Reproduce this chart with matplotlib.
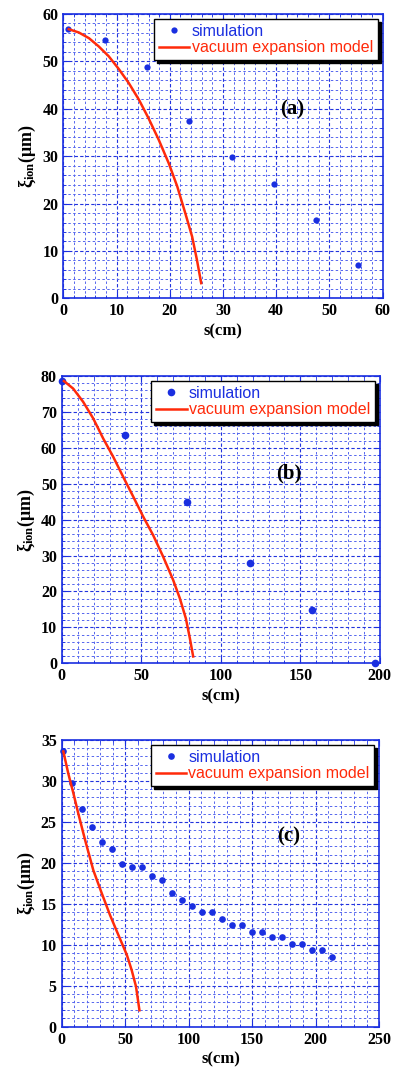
import matplotlib
matplotlib.use("Agg")
import matplotlib.pyplot as plt
from matplotlib.ticker import MultipleLocator
from matplotlib.lines import Line2D

plt.rcParams['mathtext.fontset'] = 'custom'
plt.rcParams['mathtext.rm'] = 'Liberation Serif:bold'
plt.rcParams['mathtext.it'] = 'Liberation Serif:bold'
plt.rcParams['mathtext.bf'] = 'Liberation Serif:bold'

# ---- panel (a) ----
sim_a_x = [0.8, 7.9, 15.8, 23.7, 31.6, 39.5, 47.4, 55.3]
sim_a_y = [56.9, 54.6, 48.9, 37.5, 29.9, 24.2, 16.6, 7.1]
mod_a_x = [1.0, 2.9, 4.8, 6.6, 8.5, 10.4, 12.3, 14.2, 16.0, 17.9, 19.8, 21.4,
           22.9, 24.2, 25.1, 25.9]
mod_a_y = [56.8, 56.1, 54.9, 53.2, 51.1, 48.4, 45.4, 41.9, 38.0, 33.5, 28.5, 23.6,
           18.0, 13.0, 8.1, 3.2]

# ---- panel (b) ----
sim_b_x = [0.4, 39.6, 78.8, 118.2, 157.4, 196.8]
sim_b_y = [78.7, 63.7, 44.8, 28.0, 14.9, 0.0]
mod_b_x = [1.3, 7.1, 13.4, 19.7, 26.0, 32.3, 38.6, 44.9, 51.2, 57.4, 63.7, 70.0,
           74.2, 78.0, 80.5, 82.6]
mod_b_y = [78.6, 76.5, 72.8, 68.2, 62.6, 57.5, 51.9, 46.4, 40.8, 35.7, 29.7, 23.2,
           18.1, 12.5, 7.0, 1.9]

# ---- panel (c) ----
sim_c_x = [1.3, 8.4, 16.3, 24.1, 32.0, 39.9, 47.8, 55.6, 63.5, 71.4, 79.3, 87.1,
           95.0, 102.9, 110.8, 118.6, 126.5, 134.4, 142.3, 150.1, 158.0, 165.9,
           173.8, 181.6, 189.5, 197.4, 205.2, 213.1]
sim_c_y = [33.7, 29.7, 26.6, 24.4, 22.5, 21.7, 19.9, 19.5, 19.5, 18.4, 17.9, 16.3,
           15.5, 14.7, 14.0, 14.0, 13.2, 12.4, 12.4, 11.6, 11.6, 10.9,
           10.9, 10.1, 10.1, 9.3, 9.3, 8.5]
mod_c_x = [1.3, 5.2, 9.2, 13.1, 18.4, 24.9, 31.5, 38.1, 44.6, 51.2, 55.1, 58.5, 61.2]
mod_c_y = [33.6, 30.9, 28.5, 26.0, 22.8, 19.1, 16.3, 13.6, 11.2, 8.8, 6.9, 4.9, 2.0]

panels = [
    dict(sx=sim_a_x, sy=sim_a_y, mx=mod_a_x, my=mod_a_y, xlim=(0, 60), ylim=(0, 60),
         xmaj=10, xmin=2, ymaj=10, ymin=2, tag='(a)', tagpos=(43, 39.8), ms=4.5,
         rect=[0.161, 0.7212, 0.810, 0.2657]),
    dict(sx=sim_b_x, sy=sim_b_y, mx=mod_b_x, my=mod_b_y, xlim=(0, 200), ylim=(0, 80),
         xmaj=50, xmin=10, ymaj=10, ymin=2, tag='(b)', tagpos=(143, 52.9), ms=5.5,
         rect=[0.157, 0.3801, 0.807, 0.2685]),
    dict(sx=sim_c_x, sy=sim_c_y, mx=mod_c_x, my=mod_c_y, xlim=(0, 250), ylim=(0, 35),
         xmaj=50, xmin=10, ymaj=5, ymin=1, tag='(c)', tagpos=(179, 23.2), ms=4.8,
         rect=[0.1566, 0.0405, 0.806, 0.2679]),
]

BLUE = '#1a2fe0'
RED = '#ff2a0a'
serif_bold = dict(family='Liberation Serif', weight='bold')

fig = plt.figure(figsize=(3.94, 10.70), dpi=100)

for p in panels:
    ax = fig.add_axes(p['rect'])
    ax.set_xlim(*p['xlim'])
    ax.set_ylim(*p['ylim'])
    ax.xaxis.set_major_locator(MultipleLocator(p['xmaj']))
    ax.xaxis.set_minor_locator(MultipleLocator(p['xmin']))
    ax.yaxis.set_major_locator(MultipleLocator(p['ymaj']))
    ax.yaxis.set_minor_locator(MultipleLocator(p['ymin']))
    ax.grid(which='major', color='#2233dd', linestyle=(0, (3, 2)), linewidth=0.8)
    ax.grid(which='minor', color='#5566ee', linestyle=(0, (2.5, 2.5)), linewidth=0.7)
    for s in ax.spines.values():
        s.set_color(BLUE)
        s.set_linewidth(1.2)
    ax.tick_params(which='both', direction='in', colors=BLUE, labelcolor='black',
                   labelsize=11.5, top=True, right=True)
    ax.tick_params(which='major', length=4)
    ax.tick_params(which='minor', length=2)
    for lab in ax.get_xticklabels() + ax.get_yticklabels():
        lab.set_fontfamily('Liberation Serif')
        lab.set_fontweight('bold')

    ax.plot(p['sx'], p['sy'], 'o', color=BLUE, markersize=p['ms'], markeredgewidth=0,
            zorder=3, clip_on=False)
    ax.plot(p['mx'], p['my'], '-', color=RED, linewidth=1.8, zorder=4,
            solid_joinstyle='round')

    ax.text(p['tagpos'][0], p['tagpos'][1], p['tag'], fontsize=15, ha='center',
            va='center', **serif_bold)

    ax.set_xlabel('s(cm)', fontsize=12, labelpad=3, **serif_bold)
    ax.set_ylabel(r'$\xi_{ion}$(μm)', fontsize=13, labelpad=3, **serif_bold)

    handles = [
        Line2D([], [], linestyle='none', marker='o', color=BLUE, markersize=p['ms'],
               markeredgewidth=0),
        Line2D([], [], color=RED, linewidth=1.8),
    ]
    leg = ax.legend(handles, ['simulation', 'vacuum expansion model'], loc='upper right',
                    fancybox=False, shadow={'color': 'black', 'alpha': 1.0},
                    framealpha=1, edgecolor='black', borderaxespad=0.3,
                    prop=dict(family='Liberation Sans', size=11.5),
                    handlelength=1.9, handletextpad=0.15, borderpad=0.3,
                    labelspacing=0.1, numpoints=1)
    leg.get_frame().set_linewidth(1.0)
    leg.texts[0].set_color(BLUE)
    leg.texts[1].set_color(RED)
    leg.set_zorder(10)

fig.savefig('out.png', dpi=100)
